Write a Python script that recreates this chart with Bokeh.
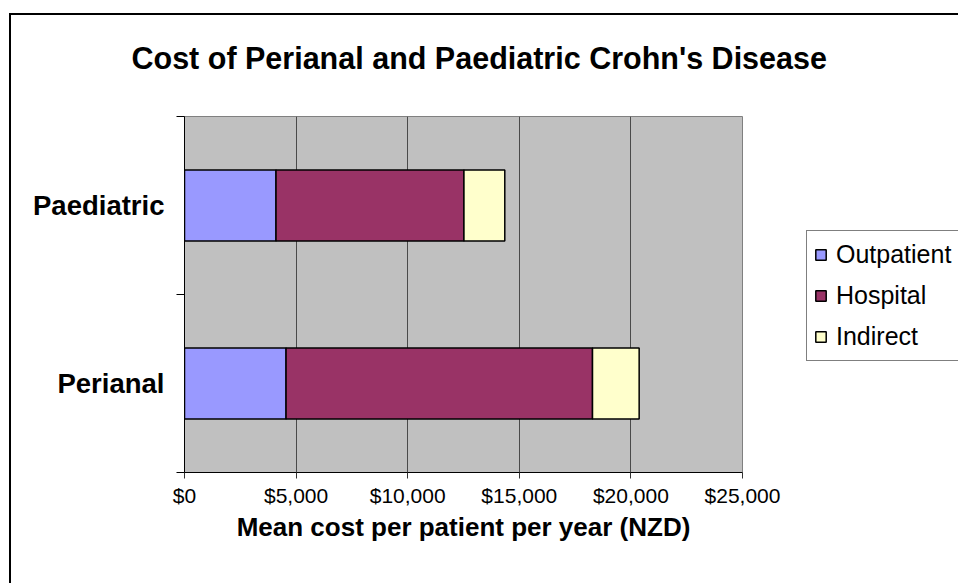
from bokeh.plotting import figure
from bokeh.models import (ColumnDataSource, FixedTicker, NumeralTickFormatter,
                          Legend, LegendItem, Title)
from bokeh.embed import file_html
from bokeh.resources import INLINE

# ---- data ----
categories = ["Perianal", "Paediatric"]
cat_pos = [1, 3]
outpatient = [4550, 4100]
hospital = [13730, 8420]
indirect = [2090, 1830]
series = ["Outpatient", "Hospital", "Indirect"]
colors = ["#9999FF", "#993366", "#FFFFCC"]
x_ticks = [0, 5000, 10000, 15000, 20000, 25000]

FONT = "Liberation Sans"

source = ColumnDataSource(dict(y=cat_pos, Outpatient=outpatient,
                               Hospital=hospital, Indirect=indirect))

p = figure(output_backend="svg", toolbar_location=None,
           frame_width=558, frame_height=356,
           min_border_left=173, min_border_right=216,
           min_border_top=101, min_border_bottom=111,
           x_range=(0, 25000), y_range=(0, 4),
           background_fill_color="#C0C0C0", border_fill_color="white",
           outline_line_color="#808080", outline_line_width=1)
p.styles = {"margin-left": "9px", "margin-top": "13px",
            "border-left": "2px solid black", "border-top": "2px solid black"}

renderers = p.hbar_stack(series, y="y", height=0.8, source=source,
                         fill_color=colors, line_color="black", line_width=1.5)

# grid
p.ygrid.visible = False
p.xgrid.ticker = FixedTicker(ticks=x_ticks)
p.xgrid.grid_line_color = "#4a4a4a"
p.xgrid.grid_line_width = 1

# x axis
xa = p.xaxis[0]
xa.ticker = FixedTicker(ticks=x_ticks, minor_ticks=[])
xa.formatter = NumeralTickFormatter(format="$0,0")
xa.axis_line_color = "black"
xa.major_tick_line_color = "#333333"
xa.major_tick_out = 6
xa.major_tick_in = 0
xa.major_label_text_font = FONT
xa.major_label_text_font_size = "21px"
xa.major_label_text_color = "black"
xa.major_label_standoff = 5
xa.axis_label = "Mean cost per patient per year (NZD)"
xa.axis_label_text_font = FONT
xa.axis_label_text_font_size = "26px"
xa.axis_label_text_font_style = "bold"
xa.axis_label_text_color = "black"
xa.axis_label_standoff = 2

# y axis
ya = p.yaxis[0]
ya.ticker = FixedTicker(ticks=cat_pos, minor_ticks=[0, 2, 4])
ya.major_label_overrides = {cat_pos[i]: categories[i] for i in range(len(categories))}
ya.major_tick_out = 0
ya.major_tick_in = 0
ya.minor_tick_out = 8
ya.minor_tick_in = 0
ya.minor_tick_line_color = "black"
ya.axis_line_color = "black"
ya.major_label_standoff = 12
ya.major_label_text_font = FONT
ya.major_label_text_font_size = "27.5px"
ya.major_label_text_font_style = "bold"
ya.major_label_text_color = "black"

# spacer between title and plot area (closest to the frame), then the title
spacer = Title(text=" ", text_font=FONT, text_font_size="10px",
               vertical_align="middle", standoff=28)
p.add_layout(spacer, "above")
title = Title(text="Cost of Perianal and Paediatric Crohn's Disease",
              text_font=FONT, text_font_size="30.5px", text_font_style="bold",
              text_color="black", align="left", offset=-53,
              vertical_align="middle", standoff=0)
p.add_layout(title, "above")

# legend
legend = Legend(items=[LegendItem(label=s, renderers=[r]) for s, r in zip(series, renderers)],
                location=(64, 111), orientation="vertical",
                border_line_color="black", border_line_width=1,
                background_fill_color="white", background_fill_alpha=1,
                label_text_font=FONT, label_text_font_size="25px",
                label_text_color="black",
                glyph_width=13, glyph_height=13, label_standoff=9,
                label_height=33, spacing=8, padding=7, margin=0)
p.add_layout(legend, "right")

open("out.html", "w").write(file_html(p, INLINE))
